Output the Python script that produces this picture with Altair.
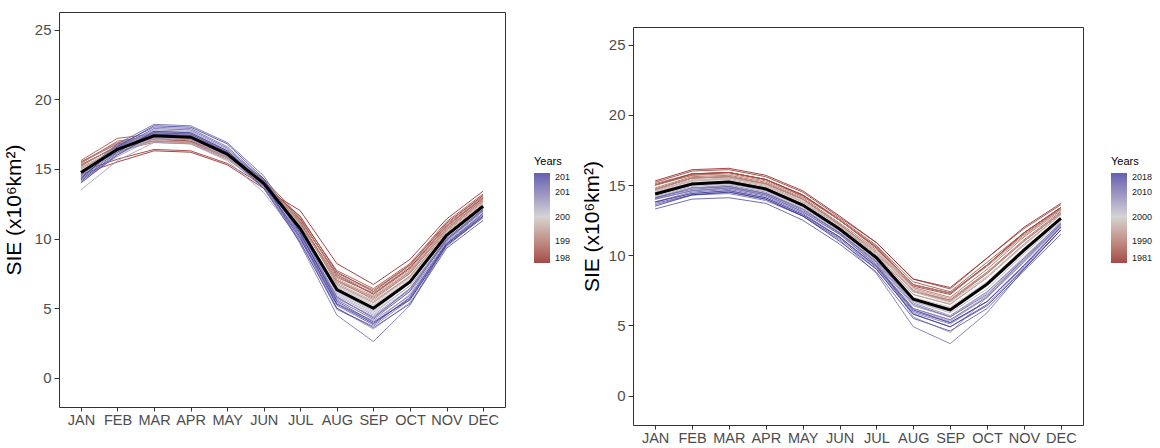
import altair as alt
import pandas as pd

YEARS = list(range(1981, 2019))
MONTHS = ["JAN", "FEB", "MAR", "APR", "MAY", "JUN", "JUL", "AUG", "SEP", "OCT", "NOV", "DEC"]
Y_TICKS = [0, 5, 10, 15, 20, 25]
LEGEND_VALUES = [1981, 1990, 2000, 2010, 2018]

# Left panel: SIE per month, one value per year 1981..2018
LEFT = {
    "JAN": [14.6, 14.8, 15.5, 15.3, 15.6, 15.2, 15.4, 15.5, 15.1, 15.3,
            15.0, 15.2, 15.4, 15.0, 14.9, 15.1, 14.8, 15.0, 14.7, 14.9,
            14.6, 14.8, 14.5, 14.7, 14.3, 13.5, 14.2, 14.6, 14.4, 14.3,
            14.0, 14.5, 14.6, 14.4, 14.2, 14.0, 14.1, 14.3],
    "FEB": [15.5, 15.7, 16.8, 16.6, 17.2, 16.7, 17.0, 16.9, 16.3, 16.6,
            16.4, 16.7, 16.9, 16.4, 16.2, 16.5, 16.3, 16.6, 16.1, 16.4,
            16.5, 16.2, 16.6, 16.3, 16.0, 15.6, 15.9, 16.6, 16.5, 16.4,
            16.1, 16.7, 16.8, 16.5, 16.3, 16.0, 16.2, 16.6],
    "MAR": [16.3, 16.4, 17.2, 17.0, 17.5, 17.1, 17.4, 17.3, 16.9, 17.2,
            17.0, 17.3, 17.5, 17.2, 17.0, 17.4, 17.3, 17.6, 17.2, 17.5,
            17.6, 17.4, 17.7, 17.5, 17.3, 16.9, 17.2, 17.8, 17.7, 17.6,
            17.4, 18.0, 18.2, 17.9, 17.6, 17.5, 17.7, 18.1],
    "APR": [16.2, 16.3, 17.0, 16.9, 17.4, 17.0, 17.3, 17.2, 16.8, 17.1,
            16.9, 17.2, 17.4, 17.1, 16.9, 17.3, 17.2, 17.5, 17.1, 17.4,
            17.5, 17.3, 17.6, 17.4, 17.2, 16.8, 17.1, 17.7, 17.6, 17.5,
            17.3, 17.9, 18.1, 17.8, 17.5, 17.4, 17.6, 18.0],
    "MAY": [15.3, 15.4, 15.9, 15.8, 16.2, 15.9, 16.1, 16.0, 15.7, 15.9,
            15.8, 16.0, 16.2, 15.9, 15.8, 16.1, 16.0, 16.3, 15.9, 16.1,
            16.2, 16.0, 16.3, 16.1, 15.9, 15.6, 15.8, 16.4, 16.3, 16.2,
            16.0, 16.6, 16.9, 16.5, 16.2, 16.1, 16.3, 16.8],
    "JUN": [13.6, 13.8, 14.1, 14.0, 14.3, 13.9, 14.2, 14.1, 13.8, 14.0,
            13.9, 14.1, 14.2, 13.9, 13.8, 14.0, 13.9, 14.2, 13.8, 14.0,
            14.1, 13.9, 14.1, 14.0, 13.7, 13.3, 13.6, 14.2, 14.1, 13.9,
            13.7, 14.2, 14.5, 14.1, 13.8, 13.6, 13.9, 14.3],
    "JUL": [12.0, 11.6, 11.4, 11.2, 11.5, 11.1, 11.3, 11.4, 11.0, 11.2,
            11.0, 11.3, 11.1, 10.9, 10.8, 11.0, 10.7, 10.9, 10.6, 10.8,
            10.7, 10.5, 10.6, 10.7, 10.3, 9.9, 10.0, 10.4, 10.5, 10.2,
            9.8, 9.6, 10.6, 10.3, 10.0, 9.7, 10.1, 10.4],
    "AUG": [8.2, 7.6, 7.4, 7.0, 7.7, 7.2, 7.5, 7.3, 6.9, 6.7,
            7.0, 7.4, 6.8, 7.1, 6.4, 7.0, 6.6, 6.5, 6.2, 6.5,
            6.6, 6.0, 6.2, 6.1, 5.8, 5.9, 5.0, 5.4, 5.7, 5.3,
            4.9, 4.5, 5.8, 5.6, 5.2, 5.0, 5.3, 5.5],
    "SEP": [6.7, 6.2, 6.0, 5.8, 6.4, 6.1, 6.3, 6.0, 5.7, 5.4,
            5.6, 6.2, 5.5, 5.9, 5.1, 5.8, 5.4, 5.2, 4.9, 5.2,
            5.3, 4.6, 4.8, 4.7, 4.3, 4.5, 3.5, 3.9, 4.4, 4.1,
            3.7, 2.6, 4.3, 4.2, 3.8, 3.6, 3.9, 4.0],
    "OCT": [8.5, 8.1, 7.9, 7.6, 8.2, 7.9, 8.1, 7.8, 7.5, 7.3,
            7.5, 8.0, 7.3, 7.7, 7.0, 7.6, 7.2, 7.0, 6.8, 7.1,
            7.2, 6.6, 6.8, 6.6, 6.2, 6.4, 5.4, 6.0, 6.3, 5.9,
            5.6, 5.2, 6.4, 6.2, 5.8, 5.3, 5.7, 5.6],
    "NOV": [11.4, 11.1, 10.9, 10.7, 11.2, 10.9, 11.0, 10.8, 10.6, 10.5,
            10.6, 10.9, 10.4, 10.7, 10.2, 10.6, 10.3, 10.2, 10.0, 10.3,
            10.3, 9.9, 10.1, 9.9, 9.6, 9.8, 9.4, 9.8, 9.9, 9.6,
            9.5, 9.6, 10.0, 9.9, 9.7, 9.3, 9.6, 9.5],
    "DEC": [13.4, 13.1, 12.9, 12.8, 13.2, 13.0, 13.1, 12.9, 12.7, 12.6,
            12.7, 13.0, 12.5, 12.8, 12.3, 12.7, 12.4, 12.3, 12.1, 12.4,
            12.4, 12.0, 12.2, 12.0, 11.7, 11.9, 11.6, 12.0, 12.1, 11.8,
            11.6, 11.7, 12.1, 12.0, 11.8, 11.3, 11.6, 11.5],
}

# Right panel
RIGHT = {
    "JAN": [15.3, 15.0, 15.2, 15.0, 15.1, 14.7, 15.0, 14.8, 14.7, 15.0,
            14.7, 14.6, 14.7, 14.4, 14.6, 14.6, 14.4, 14.5, 14.6, 14.3,
            14.3, 14.1, 14.4, 14.2, 14.1, 14.0, 14.1, 14.0, 14.1, 13.8,
            14.0, 13.6, 14.1, 13.8, 13.7, 13.3, 13.8, 13.5],
    "FEB": [16.1, 15.8, 16.0, 15.8, 15.8, 15.5, 15.7, 15.6, 15.5, 15.7,
            15.5, 15.3, 15.5, 15.1, 15.3, 15.4, 15.1, 15.2, 15.3, 15.0,
            15.0, 14.8, 15.1, 14.9, 14.8, 14.6, 14.8, 14.6, 14.8, 14.4,
            14.6, 14.3, 14.7, 14.5, 14.3, 14.0, 14.4, 14.3],
    "MAR": [16.2, 15.9, 16.1, 15.9, 15.9, 15.6, 15.9, 15.7, 15.6, 15.8,
            15.6, 15.5, 15.6, 15.3, 15.4, 15.5, 15.3, 15.3, 15.5, 15.1,
            15.2, 14.9, 15.2, 15.1, 14.9, 14.8, 14.9, 14.8, 15.0, 14.6,
            14.8, 14.4, 14.9, 14.7, 14.5, 14.1, 14.6, 14.5],
    "APR": [15.7, 15.4, 15.6, 15.4, 15.4, 15.1, 15.4, 15.2, 15.1, 15.3,
            15.1, 15.0, 15.1, 14.8, 14.9, 15.0, 14.8, 14.8, 15.0, 14.6,
            14.7, 14.4, 14.7, 14.6, 14.4, 14.3, 14.4, 14.3, 14.5, 14.1,
            14.3, 13.9, 14.4, 14.2, 14.0, 13.7, 14.1, 14.0],
    "MAY": [14.6, 14.3, 14.5, 14.3, 14.3, 14.0, 14.2, 14.1, 14.0, 14.2,
            14.0, 13.8, 14.0, 13.6, 13.8, 13.9, 13.6, 13.7, 13.8, 13.5,
            13.5, 13.3, 13.6, 13.4, 13.3, 13.1, 13.3, 13.1, 13.3, 12.9,
            13.1, 12.8, 13.2, 13.0, 12.8, 12.5, 12.9, 12.8],
    "JUN": [12.8, 12.5, 12.7, 12.5, 12.6, 12.2, 12.5, 12.3, 12.2, 12.5,
            12.2, 12.1, 12.2, 11.9, 12.1, 12.1, 11.9, 12.0, 12.1, 11.8,
            11.8, 11.6, 11.9, 11.7, 11.6, 11.5, 11.6, 11.5, 11.6, 11.3,
            11.5, 11.1, 11.6, 11.3, 11.2, 10.8, 11.3, 11.0],
    "JUL": [10.9, 10.5, 10.9, 10.6, 10.7, 10.2, 10.6, 10.4, 10.2, 10.6,
            10.2, 10.0, 10.3, 9.8, 10.1, 10.2, 9.8, 9.9, 10.2, 9.7,
            9.8, 9.4, 9.8, 9.6, 9.4, 9.3, 9.5, 9.3, 9.6, 9.1,
            9.3, 8.7, 9.5, 9.2, 9.0, 8.8, 9.2, 9.0],
    "AUG": [8.3, 7.8, 8.3, 7.9, 8.1, 7.4, 7.9, 7.7, 7.4, 7.9,
            7.5, 7.2, 7.6, 6.9, 7.2, 7.4, 6.9, 7.0, 7.4, 6.7,
            6.9, 6.4, 6.9, 6.7, 6.4, 6.1, 5.6, 6.2, 6.6, 5.9,
            6.2, 4.9, 6.5, 6.0, 5.8, 5.5, 6.1, 5.8],
    "SEP": [7.7, 7.2, 7.6, 7.3, 7.4, 6.8, 7.3, 7.0, 6.7, 7.3,
            6.8, 6.5, 6.9, 6.2, 6.5, 6.7, 6.2, 6.3, 6.6, 6.0,
            6.1, 5.6, 6.2, 5.9, 5.6, 5.3, 4.5, 5.4, 5.7, 5.1,
            5.4, 3.7, 5.6, 5.2, 4.9, 4.6, 5.2, 4.9],
    "OCT": [9.8, 9.3, 9.8, 9.3, 9.5, 8.8, 9.3, 9.0, 8.7, 9.2,
            8.7, 8.4, 8.8, 8.1, 8.4, 8.5, 8.0, 8.1, 8.4, 7.8,
            7.9, 7.4, 7.9, 7.6, 7.3, 7.0, 7.0, 7.1, 7.4, 6.7,
            7.0, 5.9, 7.2, 6.7, 6.5, 6.2, 6.7, 6.4],
    "NOV": [12.0, 11.6, 11.9, 11.6, 11.6, 11.1, 11.5, 11.3, 11.0, 11.4,
            11.0, 10.8, 11.0, 10.5, 10.7, 10.8, 10.4, 10.5, 10.7, 10.2,
            10.3, 9.9, 10.3, 10.1, 9.8, 9.6, 9.8, 9.6, 9.8, 9.3,
            9.5, 9.0, 9.7, 9.3, 9.1, 8.9, 9.2, 9.0],
    "DEC": [13.7, 13.4, 13.6, 13.4, 13.4, 13.1, 13.3, 13.2, 13.0, 13.3,
            13.0, 12.9, 13.0, 12.7, 12.9, 12.9, 12.7, 12.7, 12.9, 12.5,
            12.6, 12.3, 12.6, 12.4, 12.3, 12.1, 12.3, 12.2, 12.3, 12.0,
            12.1, 11.8, 12.2, 12.0, 11.8, 11.5, 12.0, 11.8],
}


def long_df(d):
    rows = []
    for y_i, yr in enumerate(YEARS):
        for m in MONTHS:
            rows.append({"month": m, "year": yr, "sie": d[m][y_i]})
    return pd.DataFrame(rows)


YTITLE = "SIE (x10\u2076km\u00b2)"
Y_DOMAIN = [-2.1, 26.27]

color_scale = alt.Scale(domain=[1981, 2000, 2018],
                        range=["#8B1A1A", "#C9C9C9", "#3A3A9C"],
                        interpolate="lab")


def panel(df, w, h, title_pad, legend_x, legend_y, label_expr=None):
    x_enc = alt.X("month:O", sort=MONTHS,
                  scale=alt.Scale(type="point", padding=0.6),
                  axis=alt.Axis(title=None, labelAngle=0, labelOverlap=False,
                                labelPadding=2, labelFontSize=14.5, tickSize=4))
    yaxis = alt.Axis(title=YTITLE, values=Y_TICKS, titlePadding=title_pad,
                     labelPadding=3)
    y_scale = alt.Scale(domain=Y_DOMAIN, nice=False, zero=False)
    legend_kwargs = dict(
        title="Years", orient="none", legendX=legend_x, legendY=legend_y,
        values=LEGEND_VALUES, format="d", gradientLength=90,
        gradientThickness=16, labelFontSize=9, titleFontSize=11,
        titleFontWeight="normal", labelOffset=5, titlePadding=6,
        gradientStrokeWidth=0, labelOverlap=False,
    )
    if label_expr:
        legend_kwargs["labelExpr"] = label_expr
    lines = alt.Chart(df).mark_line(strokeWidth=1, opacity=0.8).encode(
        x=x_enc,
        y=alt.Y("sie:Q", scale=y_scale, axis=yaxis),
        color=alt.Color("year:Q", scale=color_scale,
                        legend=alt.Legend(**legend_kwargs)),
        detail="year:N",
    )
    mean = alt.Chart(df).mark_line(color="black", strokeWidth=3).encode(
        x=x_enc,
        y=alt.Y("mean(sie):Q", scale=y_scale, axis=yaxis),
    )
    return alt.layer(lines, mean).properties(width=w, height=h)


left = panel(long_df(LEFT), 446, 395, 10, 475, 144,
             label_expr="slice(datum.label, 0, 3)")
right_panel = panel(long_df(RIGHT), 450, 398, 6, 478, 144)

# invisible spacer that pushes the right panel down
spacer = (
    alt.Chart(pd.DataFrame({"a": [0]}))
    .mark_point(opacity=0, size=1)
    .encode(x=alt.value(20), y=alt.value(6))
    .properties(width=450, height=13, view=alt.ViewBackground(stroke="transparent"))
)
right = alt.vconcat(spacer, right_panel, spacing=0)

chart = (
    alt.hconcat(left, right, spacing=8)
    .resolve_scale(color="independent")
    .resolve_legend(color="independent")
    .properties(padding={"left": 2, "top": 11, "right": 0, "bottom": 0})
    .configure_view(stroke="#333333", strokeWidth=1)
    .configure_axis(grid=False, domain=False, tickColor="#333333", tickSize=5,
                    labelColor="#4d4d4d", labelFontSize=15, titleFontSize=21,
                    titleFontWeight="normal", titleColor="black",
                    labelFont="Liberation Sans", titleFont="Liberation Sans")
    .configure_legend(labelFont="Liberation Sans", titleFont="Liberation Sans",
                      labelColor="#1a1a1a", titleColor="black")
)

chart.save("out.html", embed_options={"renderer": "svg", "actions": False})
